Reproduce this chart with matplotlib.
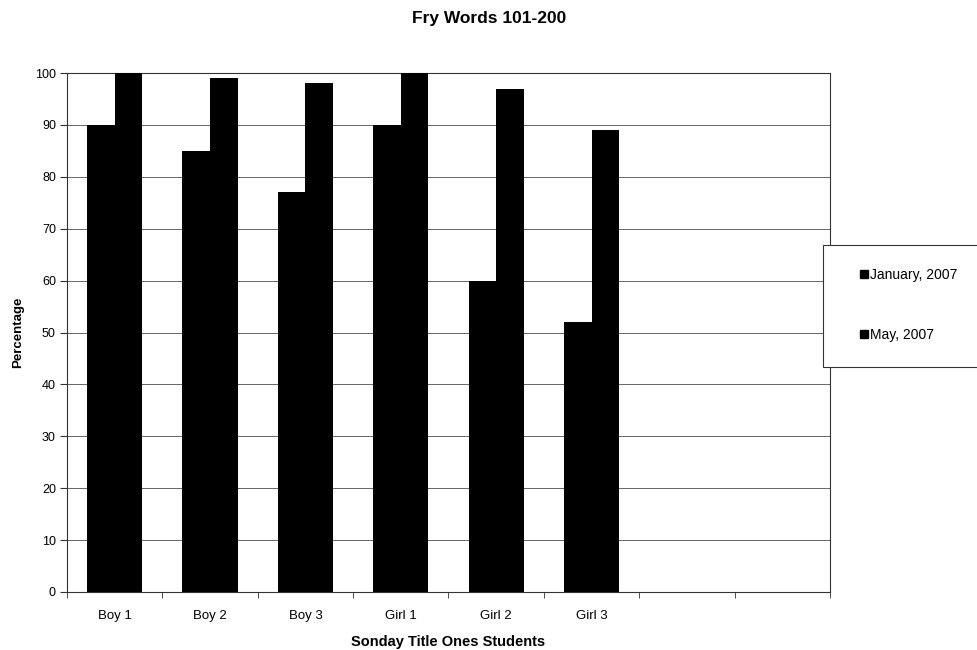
import matplotlib
matplotlib.use("Agg")
import matplotlib.pyplot as plt
import numpy as np
from matplotlib.lines import Line2D
from matplotlib.patches import Rectangle

plt.rcParams['font.family'] = ['Liberation Sans', 'DejaVu Sans']

categories = ["Boy 1", "Boy 2", "Boy 3", "Girl 1", "Girl 2", "Girl 3", "", ""]
january = [90, 85, 77, 90, 60, 52, 0, 0]
may = [100, 99, 98, 100, 97, 89, 0, 0]
series_labels = ["January, 2007", "May, 2007"]
yticks = list(range(0, 101, 10))

fig = plt.figure(figsize=(9.78, 6.5), dpi=100)
ax = fig.add_axes([67/978, 1-592/650, (830-67)/978, (592-73)/650])

x = np.arange(len(categories))
w = 0.29
ax.bar(x - w/2, january, width=w, color='black', zorder=3)
ax.bar(x + w/2, may, width=w, color='black', zorder=3)

ax.set_xlim(-0.5, len(categories) - 0.5)
ax.set_ylim(0, 100)
ax.set_yticks(yticks)
ax.set_yticklabels([str(v) for v in yticks], fontsize=9)
ax.yaxis.grid(True, color='#666666', linewidth=0.7, zorder=0)

ax.set_xticks(x)
ax.set_xticklabels(categories, fontsize=9.5)
ax.tick_params(axis='x', length=0, pad=13)
ax.set_xticks(np.arange(len(categories) + 1) - 0.5, minor=True)
ax.tick_params(axis='x', which='minor', length=4, color='#333333', direction='out')
ax.tick_params(axis='y', length=5, color='#333333', width=0.8, pad=3)

for s in ax.spines.values():
    s.set_color('#333333')
    s.set_linewidth(0.8)

ax.set_ylabel("Percentage", fontsize=9.5, fontweight='bold', labelpad=8)
ax.set_xlabel("Sonday Title Ones Students", fontsize=10.5, fontweight='bold', labelpad=9)
fig.text(0.5, 1-18/650, "Fry Words 101-200", ha='center', va='center',
         fontsize=12.5, fontweight='bold')

# legend box
fig.patches.append(Rectangle((823/978, 1-367/650), (980-823)/978, (367-245)/650,
                             transform=fig.transFigure, facecolor='white',
                             edgecolor='#333333', linewidth=0.8))
handles = [Line2D([], [], marker='s', color='black', linestyle='none', markersize=5.5)
           for _ in series_labels]
fig.legend(handles, series_labels, loc='upper left',
           bbox_to_anchor=(853/978, 1-261/650), frameon=False, fontsize=10,
           handlelength=0.6, handletextpad=0.15, labelspacing=3.3, borderpad=0)

fig.savefig("out.png", dpi=100)
